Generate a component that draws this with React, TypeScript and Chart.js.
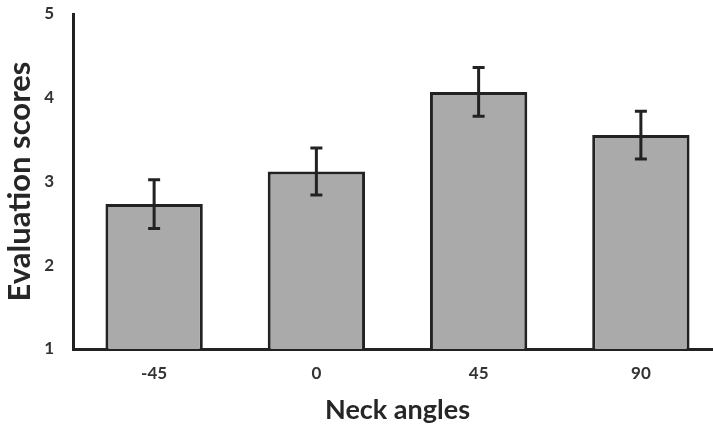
import React, { useEffect, useRef } from 'react';
import { Chart, registerables } from 'chart.js';

Chart.register(...registerables);

const categories = ['-45', '0', '45', '90'];
const means = [2.73, 3.12, 4.07, 3.555];
const errors = [0.29, 0.28, 0.29, 0.285];
const yTicks = [1, 2, 3, 4, 5];

const FONT = 'Lato, "Open Sans", sans-serif';
const DARK = '#222222';

const errorBarPlugin = {
  id: 'errorBars',
  afterDatasetsDraw(chart: any) {
    const ctx = chart.ctx;
    const meta = chart.getDatasetMeta(0);
    const yScale = chart.scales.y;
    ctx.save();
    ctx.strokeStyle = DARK;
    ctx.lineWidth = 3;
    meta.data.forEach((bar: any, i: number) => {
      const x = bar.x;
      const yTop = yScale.getPixelForValue(means[i] + errors[i]);
      const yBot = yScale.getPixelForValue(means[i] - errors[i]);
      const cap = 6;
      ctx.beginPath();
      ctx.moveTo(x, yTop);
      ctx.lineTo(x, yBot);
      ctx.moveTo(x - cap, yTop);
      ctx.lineTo(x + cap, yTop);
      ctx.moveTo(x - cap, yBot);
      ctx.lineTo(x + cap, yBot);
      ctx.stroke();
    });
    ctx.restore();
  },
};

export default function App() {
  const ref = useRef<HTMLCanvasElement>(null);
  useEffect(() => {
    if (!ref.current) return;
    const chart = new Chart(ref.current, {
      type: 'bar',
      data: {
        labels: categories,
        datasets: [
          {
            data: means,
            backgroundColor: '#aaaaaa',
            borderColor: DARK,
            borderWidth: 3,
            barPercentage: 0.6,
            categoryPercentage: 1,
            borderSkipped: 'bottom',
          },
        ],
      },
      options: {
        responsive: false,
        animation: false,
        layout: { padding: { left: 0, right: 8, top: 14, bottom: 0 } },
        plugins: {
          legend: { display: false },
          tooltip: { enabled: false },
        },
        scales: {
          x: {
            grid: { display: false, drawTicks: true, tickLength: 14 },
            border: { color: DARK, width: 3 },
            ticks: {
              color: '#333333',
              font: { family: FONT, size: 17, weight: 'bold' },
              padding: 0,
            },
            title: {
              display: true,
              text: 'Neck angles',
              color: '#262626',
              font: { family: FONT, size: 27, weight: 'bold' },
              padding: { top: 0, bottom: 3 },
            },
            afterFit(scale: any) {
              scale.height = 80;
            },
          },
          y: {
            min: 1,
            max: 5,
            afterBuildTicks(scale: any) {
              scale.ticks = yTicks.map((v) => ({ value: v }));
            },
            grid: { display: false, drawTicks: true, tickLength: 19 },
            border: { color: DARK, width: 3 },
            ticks: {
              color: '#333333',
              font: { family: FONT, size: 17, weight: 'bold' },
              padding: 0,
            },
            title: {
              display: true,
              text: 'Evaluation scores',
              color: '#262626',
              font: { family: FONT, size: 31, weight: 'bold' },
              padding: { top: 1, bottom: 0 },
            },
            afterFit(scale: any) {
              scale.width = 73;
            },
          },
        },
      },
      plugins: [errorBarPlugin],
    });
    return () => chart.destroy();
  }, []);
  return (
    <div
      style={{
        position: 'fixed',
        left: 0,
        top: 0,
        width: 713,
        height: 429,
        overflow: 'hidden',
        background: '#ffffff',
      }}
    >
      <canvas ref={ref} width={730} height={429} style={{ display: 'block' }} />
    </div>
  );
}
